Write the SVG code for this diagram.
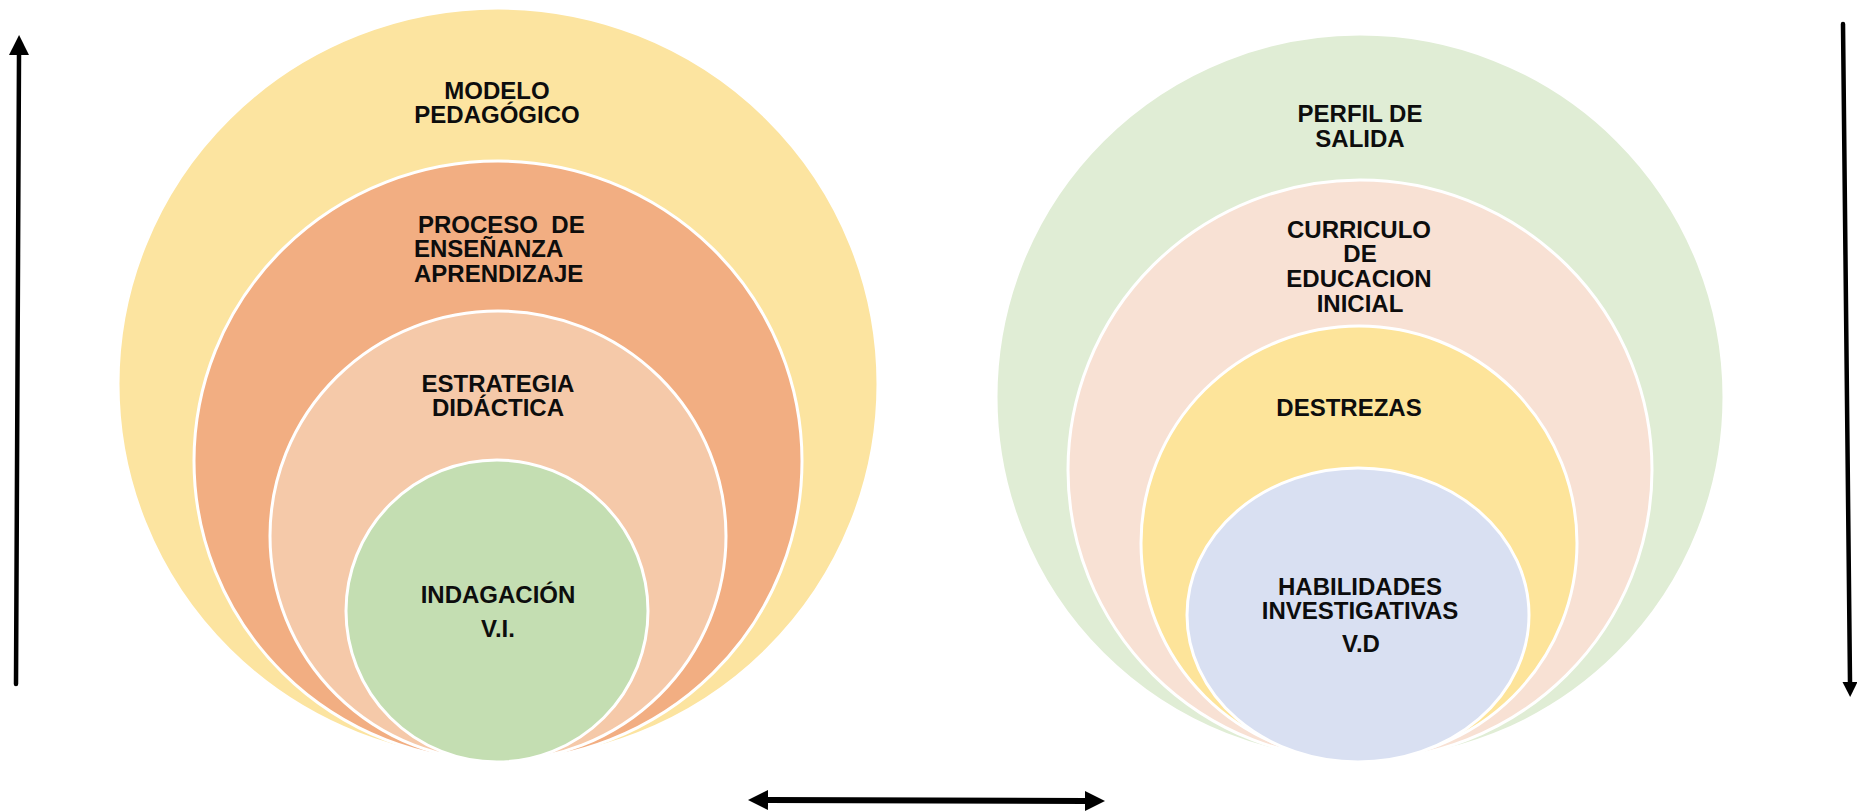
<svg xmlns="http://www.w3.org/2000/svg" width="1860" height="812" viewBox="0 0 1860 812">
<style>
.c{stroke:#ffffff;stroke-width:3}
.t{font-family:"Liberation Sans",Arial,sans-serif;font-weight:bold;font-size:24px;fill:#0d0d0d}
.m{text-anchor:middle}
.a{stroke:#000;stroke-width:4.5;fill:none;stroke-linecap:round}
.b{stroke-width:6}
</style>
<defs>
<marker id="ah" viewBox="0 0 10 10" refX="0" refY="5" markerWidth="20" markerHeight="21" markerUnits="userSpaceOnUse" orient="auto-start-reverse">
<path d="M0,0 L10,5 L0,10 z" fill="#000"/>
</marker>
<marker id="ahn" viewBox="0 0 10 10" refX="0" refY="5" markerWidth="19" markerHeight="15" markerUnits="userSpaceOnUse" orient="auto">
<path d="M0,0 L10,5 L0,10 z" fill="#000"/>
</marker>
</defs>
<rect width="1860" height="812" fill="#ffffff"/>
<g id="left-diagram">
<g id="modelo-pedagogico">
<ellipse class="c" cx="498" cy="384" rx="380" ry="376" fill="#fce4a0"/>
<text class="t m" x="497" y="99">MODELO</text>
<text class="t m" x="497" y="123">PEDAGÓGICO</text>
</g>
<g id="proceso-ensenanza">
<ellipse class="c" cx="498" cy="461" rx="304" ry="300" fill="#f2ae82"/>
<text class="t" x="418" y="233" xml:space="preserve">PROCESO  DE</text>
<text class="t" x="414" y="257">ENSEÑANZA</text>
<text class="t" x="414" y="282">APRENDIZAJE</text>
</g>
<g id="estrategia-didactica">
<ellipse class="c" cx="498" cy="536" rx="228" ry="225" fill="#f5c9a9"/>
<text class="t m" x="498" y="392">ESTRATEGIA</text>
<text class="t m" x="498" y="416">DIDÁCTICA</text>
</g>
<g id="indagacion">
<ellipse class="c" cx="497" cy="611" rx="151" ry="151" fill="#c4deb2"/>
<text class="t m" x="498" y="603">INDAGACIÓN</text>
<text class="t m" x="498" y="637">V.I.</text>
</g>
</g>
<g id="right-diagram">
<g id="perfil-salida">
<ellipse class="c" cx="1360" cy="397" rx="364" ry="363" fill="#e0edd5"/>
<text class="t m" x="1360" y="122">PERFIL DE</text>
<text class="t m" x="1360" y="147">SALIDA</text>
</g>
<g id="curriculo">
<ellipse class="c" cx="1360" cy="470" rx="292" ry="290" fill="#f8e1d4"/>
<text class="t m" x="1359" y="238">CURRICULO</text>
<text class="t m" x="1360" y="262">DE</text>
<text class="t m" x="1359" y="287">EDUCACION</text>
<text class="t m" x="1360" y="312">INICIAL</text>
</g>
<g id="destrezas">
<ellipse class="c" cx="1359" cy="543" rx="218" ry="217" fill="#fde49a"/>
<text class="t m" x="1349" y="416">DESTREZAS</text>
</g>
<g id="habilidades">
<ellipse class="c" cx="1358" cy="615" rx="171" ry="147" fill="#d9e0f2"/>
<text class="t m" x="1360" y="595">HABILIDADES</text>
<text class="t m" x="1360" y="619">INVESTIGATIVAS</text>
<text class="t m" x="1361" y="652">V.D</text>
</g>
</g>
<g id="connectors">
<line class="a" x1="16" y1="684" x2="19" y2="55" marker-end="url(#ah)"/>
<line class="a" x1="1843" y1="24" x2="1850" y2="682" marker-end="url(#ahn)"/>
<line class="a b" x1="768" y1="800" x2="1085" y2="801" marker-start="url(#ah)" marker-end="url(#ah)"/>
</g>
</svg>
